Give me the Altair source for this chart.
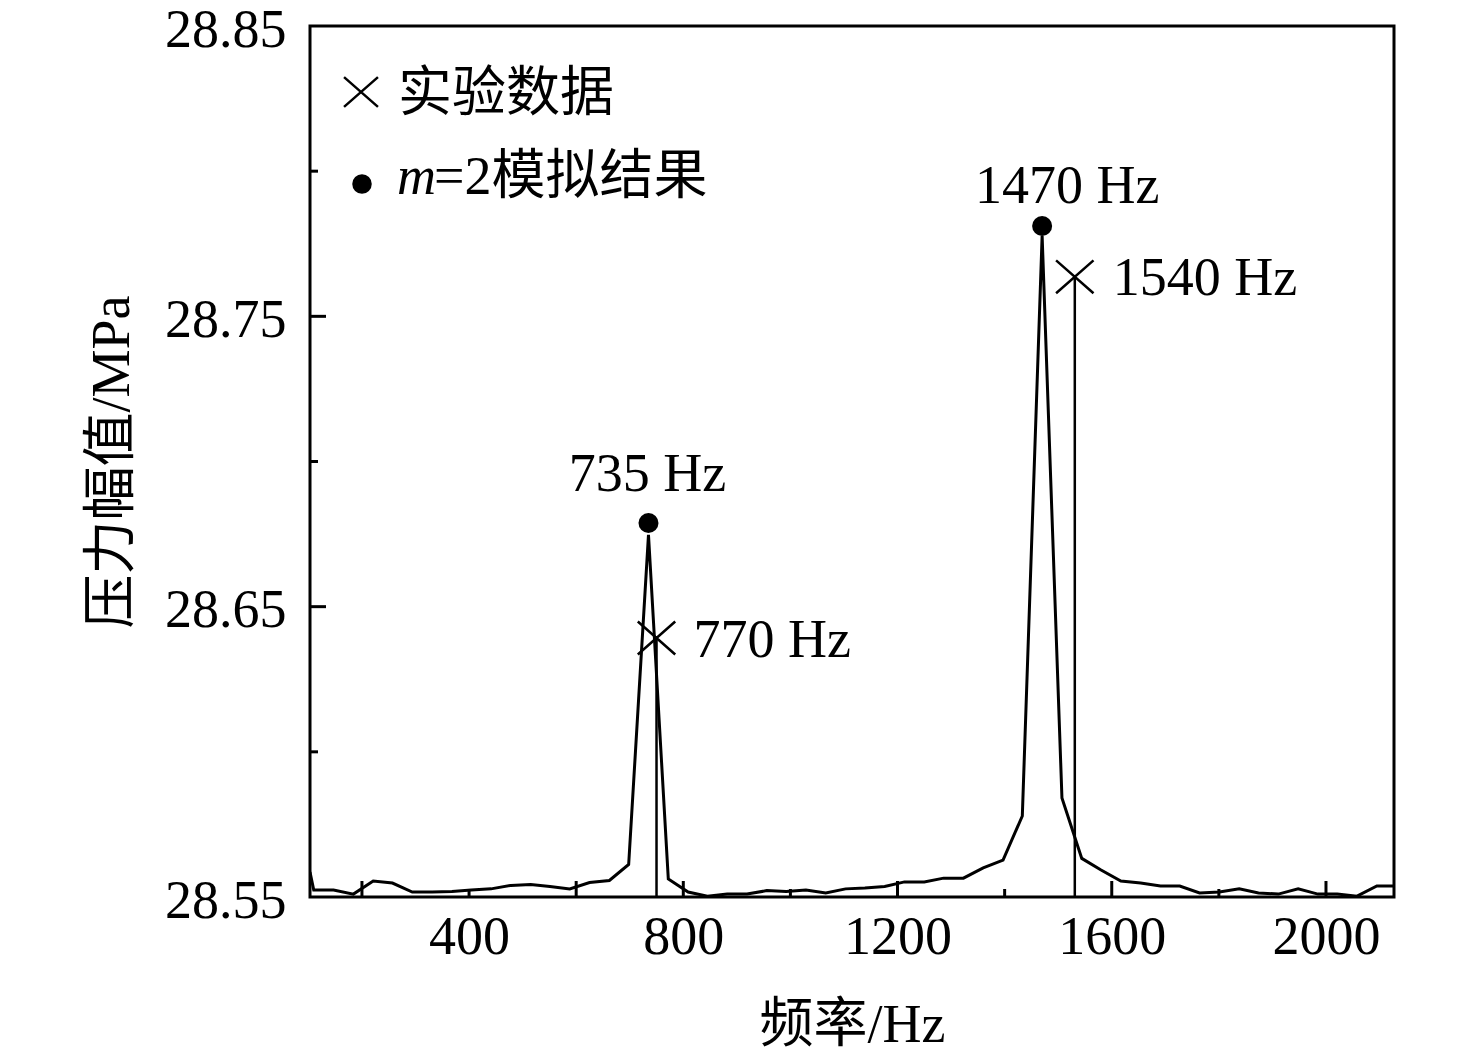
import altair as alt
import pandas as pd

# ---------------- data ----------------
freq = [103, 110, 147, 184, 221, 257, 294, 331, 368, 404, 441, 478, 515, 551, 588,
        625, 662, 698, 735, 772, 809, 845, 882, 919, 956, 992, 1029, 1066, 1103,
        1139, 1176, 1213, 1250, 1286, 1323, 1360, 1397, 1433, 1470, 1507, 1544,
        1580, 1617, 1654, 1691, 1727, 1764, 1801, 1838, 1874, 1911, 1948, 1985,
        2021, 2058, 2095, 2132]
amp = [28.5586, 28.5524, 28.5524, 28.5510, 28.5555, 28.5548, 28.5517, 28.5517,
       28.5519, 28.5524, 28.5528, 28.5540, 28.5543, 28.5536, 28.5528, 28.5550,
       28.5557, 28.5612, 28.6747, 28.5562, 28.5517, 28.5503, 28.5510, 28.5510,
       28.5522, 28.5519, 28.5524, 28.5514, 28.5528, 28.5531, 28.5536, 28.5552,
       28.5552, 28.5565, 28.5565, 28.5600, 28.5627, 28.5779, 28.7777, 28.5841,
       28.5633, 28.5593, 28.5555, 28.5548, 28.5538, 28.5538, 28.5514, 28.5517,
       28.5528, 28.5514, 28.5510, 28.5528, 28.5510, 28.5510, 28.5503, 28.5538,
       28.5538]

sim_freq = [735, 1470]
sim_amp = [28.6788, 28.7811]
sim_labels = ["735 Hz", "1470 Hz"]

exp_freq = [750, 1531]
exp_amp = [28.6392, 28.7636]
exp_labels = ["770 Hz", "1540 Hz"]

x_label_values = [400, 800, 1200, 1600, 2000]
x_long_ticks = [200, 600, 800, 1200, 1600, 2000]
x_short_ticks = [400, 1000, 1400, 1800]
y_label_values = [28.55, 28.65, 28.75, 28.85]
y_long_ticks = [28.65, 28.75]
y_short_ticks = [28.60, 28.70, 28.80]

legend_exp = "实验数据"
legend_sim_italic = "m"
legend_sim_rest = "=2模拟结果"
x_title = "频率/Hz"
y_title = "压力幅值/MPa"

# ---------------- styling ----------------
W, H = 1084, 871
FONT = "Liberation Serif, Noto Sans CJK SC"
FS = 54
X_DOMAIN = [103, 2127]
Y_DOMAIN = [28.55, 28.85]
XMARK = "M-1,-0.88L1,0.88M-1,0.88L1,-0.88"

xs = alt.Scale(domain=X_DOMAIN, nice=False, zero=False)
ys = alt.Scale(domain=Y_DOMAIN, nice=False, zero=False)

df_line = pd.DataFrame({"f": freq, "a": amp})
df_sim = pd.DataFrame({"f": sim_freq, "a": sim_amp, "t": sim_labels})
df_exp = pd.DataFrame({"f": exp_freq, "a": exp_amp, "t": exp_labels})
one = pd.DataFrame({"k": [0]})

x_axis = alt.Axis(values=x_label_values, format="d", ticks=False, tickSize=0, domain=False,
                  grid=False, labelPadding=56, labelBaseline="alphabetic", labelFlush=False,
                  labelOverlap=False, labelFontSize=FS, labelFont=FONT, labelColor="black",
                  title=x_title, titleFont=FONT, titleFontSize=FS, titleFontWeight="normal",
                  titleColor="black", titleX=542, titleY=144, titleAlign="center",
                  titleBaseline="alphabetic", titleAngle=0)
y_axis = alt.Axis(values=y_label_values, format=".2f", ticks=False, tickSize=0, domain=False,
                  grid=False, labelPadding=24, labelBaseline="alphabetic", labelOffset=20,
                  labelFlush=False, labelOverlap=False, labelFontSize=FS, labelFont=FONT,
                  labelColor="black", title=y_title, titleFont=FONT, titleFontSize=FS,
                  titleFontWeight="normal", titleColor="black", titleX=-182, titleY=435.5,
                  titleAngle=270, titleAlign="center", titleBaseline="alphabetic")

def X(field):
    return alt.X(field, scale=xs, axis=x_axis)

def Y(field):
    return alt.Y(field, scale=ys, axis=y_axis)

line = alt.Chart(df_line).mark_line(color="black", strokeWidth=3, clip=True).encode(
    x=X("f:Q"), y=Y("a:Q"))

def xticks(vals, length):
    return alt.Chart(pd.DataFrame({"t": vals})).mark_rule(color="black", strokeWidth=3).encode(
        x=X("t:Q"), y=alt.value(H), y2=alt.value(H - length))

def yticks(vals, length):
    return alt.Chart(pd.DataFrame({"t": vals})).mark_rule(color="black", strokeWidth=3).encode(
        y=Y("t:Q"), x=alt.value(0), x2=alt.value(length))

stems = alt.Chart(df_exp).mark_rule(color="black", strokeWidth=2.5).encode(
    x=X("f:Q"), y=Y("a:Q"), y2=alt.value(H))
exp_pts = alt.Chart(df_exp).mark_point(shape=XMARK, size=1400, filled=False, color="black",
                                       strokeWidth=2.5, opacity=1).encode(
    x=X("f:Q"), y=Y("a:Q"))
sim_pts = alt.Chart(df_sim).mark_circle(size=400, color="black", opacity=1).encode(
    x=X("f:Q"), y=Y("a:Q"))

def ann(df, i, align, dx, dy):
    return alt.Chart(df.iloc[[i]]).mark_text(font=FONT, fontSize=FS, color="black", align=align,
                                             baseline="alphabetic", dx=dx, dy=dy).encode(
        x=X("f:Q"), y=Y("a:Q"), text="t:N")

anns = [
    ann(df_sim, 0, "center", -1, -32),
    ann(df_sim, 1, "center", 25, -23),
    ann(df_exp, 0, "left", 37, 19),
    ann(df_exp, 1, "left", 38, 18),
]

leg_x = alt.Chart(one).mark_point(shape=XMARK, size=1150, filled=False, color="black",
                                  strokeWidth=2.5, opacity=1).encode(
    x=alt.value(51), y=alt.value(66))
leg_dot = alt.Chart(one).mark_circle(size=380, color="black", opacity=1).encode(
    x=alt.value(52), y=alt.value(158))
leg_t1 = alt.Chart(one).mark_text(text=legend_exp, font=FONT, fontSize=FS, color="black",
                                  align="left", baseline="alphabetic").encode(
    x=alt.value(88), y=alt.value(85))
leg_t2 = alt.Chart(one).mark_text(text=legend_sim_italic, font=FONT, fontSize=FS, fontStyle="italic",
                                  color="black", align="left", baseline="alphabetic").encode(
    x=alt.value(87), y=alt.value(168))
leg_t3 = alt.Chart(one).mark_text(text=legend_sim_rest, font=FONT, fontSize=FS, color="black",
                                  align="left", baseline="alphabetic").encode(
    x=alt.value(124), y=alt.value(168))

chart = alt.layer(
    line,
    xticks(x_long_ticks, 16), xticks(x_short_ticks, 8),
    yticks(y_long_ticks, 16), yticks(y_short_ticks, 8),
    stems, exp_pts, sim_pts, *anns,
    leg_x, leg_dot, leg_t1, leg_t2, leg_t3,
).properties(
    width=W, height=H,
    autosize=alt.AutoSizeParams(type="none"),
    padding={"left": 302, "top": 18, "right": 30, "bottom": 156},
    background="white",
).configure_view(
    stroke="black", strokeWidth=3,
)

chart.save("out.html", embed_options={"renderer": "svg", "actions": False})
